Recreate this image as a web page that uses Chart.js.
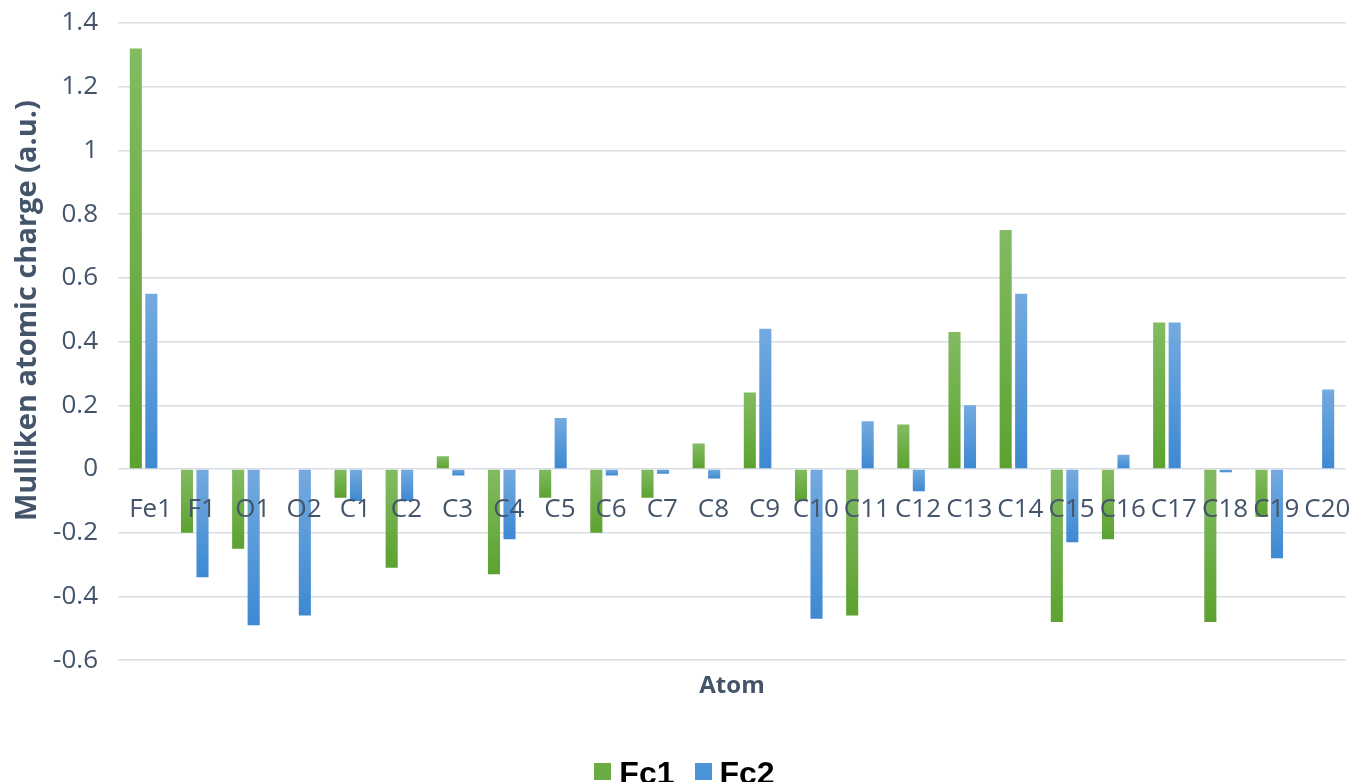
<!DOCTYPE html>
<html>
<head>
<meta charset="utf-8">
<script src="https://cdn.jsdelivr.net/npm/chart.js@4.4.1/dist/chart.umd.min.js"></script>
<style>
  html, body { margin: 0; padding: 0; background: #ffffff; overflow: hidden; }
  #wrap { position: relative; width: 1353px; height: 782px; }
  #legend {
    position: absolute; left: 16px; right: 0; top: 757px;
    display: flex; justify-content: center; align-items: flex-start;
    font: bold 32px "Liberation Sans", Arial, sans-serif; line-height: 33px; color: #000;
  }
  #legend .item { display: flex; align-items: flex-start; margin: 0 10px; }
  #legend .box { width: 17px; height: 17px; margin: 6px 8px 0 0; }
</style>
</head>
<body>
<div id="wrap">
  <canvas id="chart" width="1353" height="782"></canvas>
  <div id="legend"></div>
</div>
<script>
// Atoms along the category axis
const atoms = ['Fe1', 'F1', 'O1', 'O2', 'C1', 'C2', 'C3', 'C4', 'C5', 'C6', 'C7', 'C8',
               'C9', 'C10', 'C11', 'C12', 'C13', 'C14', 'C15', 'C16', 'C17', 'C18', 'C19', 'C20'];

// Mulliken atomic charges (a.u.)
const fc1 = [1.32, -0.20, -0.25, 0, -0.09, -0.31, 0.04, -0.33, -0.09, -0.20, -0.09, 0.08,
             0.24, -0.10, -0.46, 0.14, 0.43, 0.75, -0.48, -0.22, 0.46, -0.48, -0.15, 0];
const fc2 = [0.55, -0.34, -0.49, -0.46, -0.10, -0.10, -0.02, -0.22, 0.16, -0.02, -0.015, -0.03,
             0.44, -0.47, 0.15, -0.07, 0.20, 0.55, -0.23, 0.045, 0.46, -0.01, -0.28, 0.25];

const seriesNames = ['Fc1', 'Fc2'];
const seriesColors = [['#82bb62', '#5da230', '#6aac43'], ['#74aadf', '#3d89d2', '#4a94d8']];
const yTickValues = [-0.6, -0.4, -0.2, 0, 0.2, 0.4, 0.6, 0.8, 1, 1.2, 1.4];
const xTitle = 'Atom';
const yTitle = 'Mulliken atomic charge (a.u.)';

const axisColor = '#44546a';
const gridColor = '#d9dde4';

// Vertical gradient for each bar, lighter at its top edge
function barFill(light, dark) {
  return (ctx) => {
    const chart = ctx.chart;
    const v = ctx.parsed ? ctx.parsed.y : undefined;
    if (!chart.chartArea || v === undefined || v === null) return dark;
    const y = chart.scales.y;
    const p0 = y.getPixelForValue(0), p1 = y.getPixelForValue(v);
    const top = Math.min(p0, p1), bot = Math.max(p0, p1);
    if (bot - top < 2) return dark;
    const g = chart.ctx.createLinearGradient(0, top, 0, bot);
    g.addColorStop(0, light);
    g.addColorStop(1, dark);
    return g;
  };
}

// Rotated value-axis title
const yTitlePlugin = {
  id: 'yTitle',
  afterDraw(chart) {
    const { ctx, chartArea } = chart;
    ctx.save();
    ctx.translate(28, (chartArea.top + chartArea.bottom) / 2 - 31);
    ctx.rotate(-Math.PI / 2);
    ctx.font = 'bold 29px "Open Sans"';
    ctx.fillStyle = axisColor;
    ctx.textAlign = 'center';
    ctx.textBaseline = 'middle';
    ctx.fillText(yTitle, 0, 0);
    ctx.restore();
  }
};

// Legend built as HTML from the chart's datasets
const htmlLegendPlugin = {
  id: 'htmlLegend',
  afterUpdate(chart) {
    const host = document.getElementById('legend');
    host.innerHTML = '';
    chart.data.datasets.forEach((ds, i) => {
      const item = document.createElement('div');
      item.className = 'item';
      const box = document.createElement('span');
      box.className = 'box';
      box.style.background = seriesColors[i][2];
      const txt = document.createElement('span');
      txt.textContent = ds.label;
      item.appendChild(box);
      item.appendChild(txt);
      host.appendChild(item);
    });
  }
};

// Scales don't reserve extra room for overhanging labels
const noOverhang = (scale) => {
  scale.paddingLeft = 0;
  scale.paddingRight = 0;
  scale.paddingTop = 0;
  scale.paddingBottom = 0;
};

const labelFont = { family: 'Open Sans', size: 26 };

new Chart(document.getElementById('chart'), {
  type: 'bar',
  data: {
    labels: atoms,
    datasets: seriesNames.map((name, i) => ({
      label: name,
      data: i === 0 ? fc1 : fc2,
      backgroundColor: barFill(seriesColors[i][0], seriesColors[i][1]),
      categoryPercentage: 0.606,
      barPercentage: 0.78
    }))
  },
  options: {
    responsive: false,
    animation: false,
    devicePixelRatio: 1,
    layout: { padding: { left: 0, right: 7, top: 23, bottom: 0 } },
    plugins: {
      tooltip: { enabled: false },
      legend: { display: false }
    },
    scales: {
      x: {
        position: 'bottom',
        grid: { display: false, drawTicks: false },
        border: { display: false },
        ticks: { display: false },
        afterFit: noOverhang,
        title: {
          display: true,
          text: xTitle,
          color: axisColor,
          font: { family: 'Open Sans', size: 24, weight: 'bold' },
          padding: { top: 12, bottom: 81 }
        }
      },
      xLabels: {
        type: 'category',
        axis: 'x',
        position: { y: 0 },
        offset: true,
        grid: { display: false, drawTicks: false },
        border: { display: false },
        afterFit: noOverhang,
        ticks: {
          z: 1,
          color: axisColor,
          font: labelFont,
          padding: 25,
          labelOffset: 7,
          autoSkip: false,
          maxRotation: 0
        }
      },
      y: {
        min: -0.6,
        max: 1.4,
        afterBuildTicks: (scale) => { scale.ticks = yTickValues.map(v => ({ value: v })); },
        afterFit: (scale) => { noOverhang(scale); scale.width = 118; },
        grid: { color: gridColor, lineWidth: 1.6, drawTicks: false },
        border: { display: false },
        ticks: {
          color: axisColor,
          font: labelFont,
          padding: 20,
          callback: (v) => String(Math.round(v * 10) / 10)
        }
      }
    }
  },
  plugins: [yTitlePlugin, htmlLegendPlugin]
});
</script>
</body>
</html>
